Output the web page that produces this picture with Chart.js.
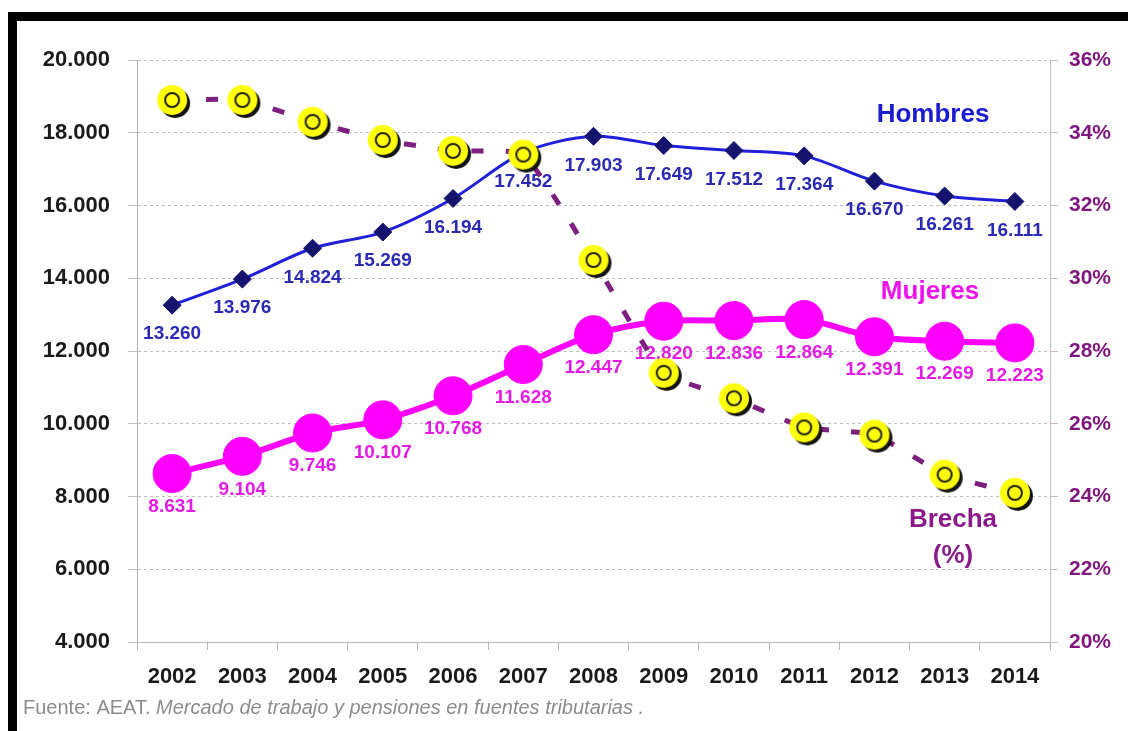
<!DOCTYPE html>
<html>
<head>
<meta charset="utf-8">
<script src="https://cdn.jsdelivr.net/npm/chart.js@4.4.1/dist/chart.umd.min.js"></script>
<style>
  html, body { margin: 0; padding: 0; background: #fff; }
  canvas { display: block; }
</style>
</head>
<body>
<canvas id="chart" width="1128" height="731" style="width:1128px;height:731px"></canvas>
<script>
// Datos (AEAT)
const years = ['2002', '2003', '2004', '2005', '2006', '2007', '2008', '2009', '2010', '2011', '2012', '2013', '2014'];
const hombres = [13260, 13976, 14824, 15269, 16194, 17452, 17903, 17649, 17512, 17364, 16670, 16261, 16111];
const mujeres = [8631, 9104, 9746, 10107, 10768, 11628, 12447, 12820, 12836, 12864, 12391, 12269, 12223];
const brecha = [34.9, 34.9, 34.3, 33.8, 33.5, 33.4, 30.5, 27.4, 26.7, 25.9, 25.7, 24.6, 24.1];
const leftTicks = ['4.000', '6.000', '8.000', '10.000', '12.000', '14.000', '16.000', '18.000', '20.000'];
const rightTicks = ['20%', '22%', '24%', '26%', '28%', '30%', '32%', '34%', '36%'];

const FONT = "'Liberation Sans', Arial, sans-serif";
Chart.defaults.font.family = FONT;

// separador de miles con punto
function fmt(v) {
    return String(v).replace(/\B(?=(\d{3})+(?!\d))/g, '.');
}

// marcador amarillo con sombra y anillo negro (serie Brecha)
function yellowMarker() {
    const c = document.createElement('canvas');
    c.width = 40; c.height = 40;
    const g = c.getContext('2d');
    g.fillStyle = '#141414';
    g.beginPath(); g.arc(23, 23, 15, 0, Math.PI * 2); g.fill();
    g.fillStyle = '#ffff0a';
    g.beginPath(); g.arc(20, 20, 15, 0, Math.PI * 2); g.fill();
    g.strokeStyle = '#222';
    g.lineWidth = 2;
    g.beginPath(); g.arc(20, 20, 7, 0, Math.PI * 2); g.stroke();
    return c;
}

// marco negro (arriba e izquierda) y fondo blanco
const frame = {
    id: 'frame',
    beforeDraw(chart) {
        const ctx = chart.ctx;
        ctx.save();
        ctx.fillStyle = '#fff';
        ctx.fillRect(0, 0, chart.width, chart.height);
        ctx.fillStyle = '#000';
        ctx.fillRect(8, 12, chart.width - 8, 9);
        ctx.fillRect(8, 12, 9, chart.height - 12);
        ctx.restore();
    }
};

// etiquetas de valor bajo cada punto, dibujadas justo después de su serie
const valueLabels = {
    id: 'valueLabels',
    afterDatasetDraw(chart, args) {
        const ds = chart.data.datasets[args.index];
        if (!ds.labelColor) return;
        const ctx = chart.ctx;
        ctx.save();
        ctx.font = 'bold 19px ' + FONT;
        ctx.fillStyle = ds.labelColor;
        ctx.textAlign = 'center';
        ctx.textBaseline = 'middle';
        args.meta.data.forEach(function (pt, i) {
            ctx.fillText(fmt(ds.data[i]), pt.x, pt.y + ds.labelOffset);
        });
        ctx.restore();
    }
};

// nombres de las series y fuente
const annotations = {
    id: 'annotations',
    afterDraw(chart) {
        const ctx = chart.ctx;
        ctx.save();
        ctx.textAlign = 'center';
        ctx.textBaseline = 'middle';
        ctx.font = 'bold 26px ' + FONT;
        ctx.fillStyle = '#1a1ad0';
        ctx.fillText('Hombres', 933, 115);
        ctx.fillStyle = '#ee12ee';
        ctx.fillText('Mujeres', 930, 292);
        ctx.fillStyle = '#8a1a8a';
        ctx.fillText('Brecha', 953, 520);
        ctx.fillText('(%)', 953, 556);

        ctx.textAlign = 'left';
        ctx.fillStyle = '#8c8c8c';
        ctx.font = '20px ' + FONT;
        const a = 'Fuente: AEAT. ';
        ctx.fillText(a, 23, 708);
        const w = ctx.measureText(a).width;
        ctx.font = 'italic 20px ' + FONT;
        ctx.fillText('Mercado de trabajo y pensiones en fuentes tributarias .', 23 + w, 708);
        ctx.restore();
    }
};

const tickFont = { family: FONT, size: 22, weight: 'bold' };

new Chart(document.getElementById('chart'), {
    type: 'line',
    data: {
        labels: years,
        datasets: [
            {
                label: 'Brecha (%)',
                data: brecha,
                yAxisID: 'y2',
                borderColor: '#7d1f80',
                borderWidth: 5,
                borderDash: [12, 22],
                tension: 0.15,
                pointStyle: yellowMarker(),
                pointRadius: 15
            },
            {
                label: 'Mujeres',
                data: mujeres,
                yAxisID: 'y',
                borderColor: '#ff00ff',
                borderWidth: 6,
                tension: 0.3,
                pointStyle: 'circle',
                pointRadius: 19,
                pointBackgroundColor: '#ff00ff',
                pointBorderColor: '#ff00ff',
                pointBorderWidth: 1,
                labelColor: '#e61ae6',
                labelOffset: 33
            },
            {
                label: 'Hombres',
                data: hombres,
                yAxisID: 'y',
                borderColor: '#2020d8',
                borderWidth: 3,
                tension: 0.3,
                pointStyle: 'rectRot',
                pointRadius: 9,
                pointBackgroundColor: '#14146e',
                pointBorderColor: '#14146e',
                pointBorderWidth: 1,
                labelColor: '#2a2ab5',
                labelOffset: 29
            }
        ]
    },
    options: {
        responsive: false,
        animation: false,
        layout: { padding: { top: 60, left: 0, right: 0, bottom: 0 } },
        plugins: {
            legend: { display: false },
            tooltip: { enabled: false }
        },
        scales: {
            x: {
                offset: true,
                grid: { offset: true, drawOnChartArea: false, tickLength: 8, color: '#b4b4b4', tickColor: '#b4b4b4' },
                border: { color: '#b4b4b4', width: 1 },
                ticks: { color: '#1a1a1a', font: tickFont, padding: 14, maxRotation: 0, autoSkip: false },
                afterFit: function (s) { s.height = 89; }
            },
            y: {
                position: 'left',
                min: 4000,
                max: 20000,
                ticks: {
                    stepSize: 2000,
                    color: '#1a1a1a',
                    font: tickFont,
                    padding: 18,
                    callback: function (v, i) { return leftTicks[i]; }
                },
                grid: { color: '#bdbdbd', lineWidth: 1, tickLength: 9, tickColor: '#bdbdbd' },
                border: { color: '#b0b0b0', dash: [3, 3] },
                afterFit: function (s) { s.width = 137; }
            },
            y2: {
                position: 'right',
                min: 20,
                max: 36,
                ticks: {
                    stepSize: 2,
                    color: '#80177f',
                    font: { family: FONT, size: 21, weight: 'bold' },
                    padding: 11,
                    callback: function (v, i) { return rightTicks[i]; }
                },
                grid: { drawOnChartArea: false, tickLength: 8, tickColor: '#c9b4c9' },
                border: { color: '#cbb8cb' },
                afterFit: function (s) { s.width = 78; }
            }
        }
    },
    plugins: [frame, valueLabels, annotations]
});
</script>
</body>
</html>
